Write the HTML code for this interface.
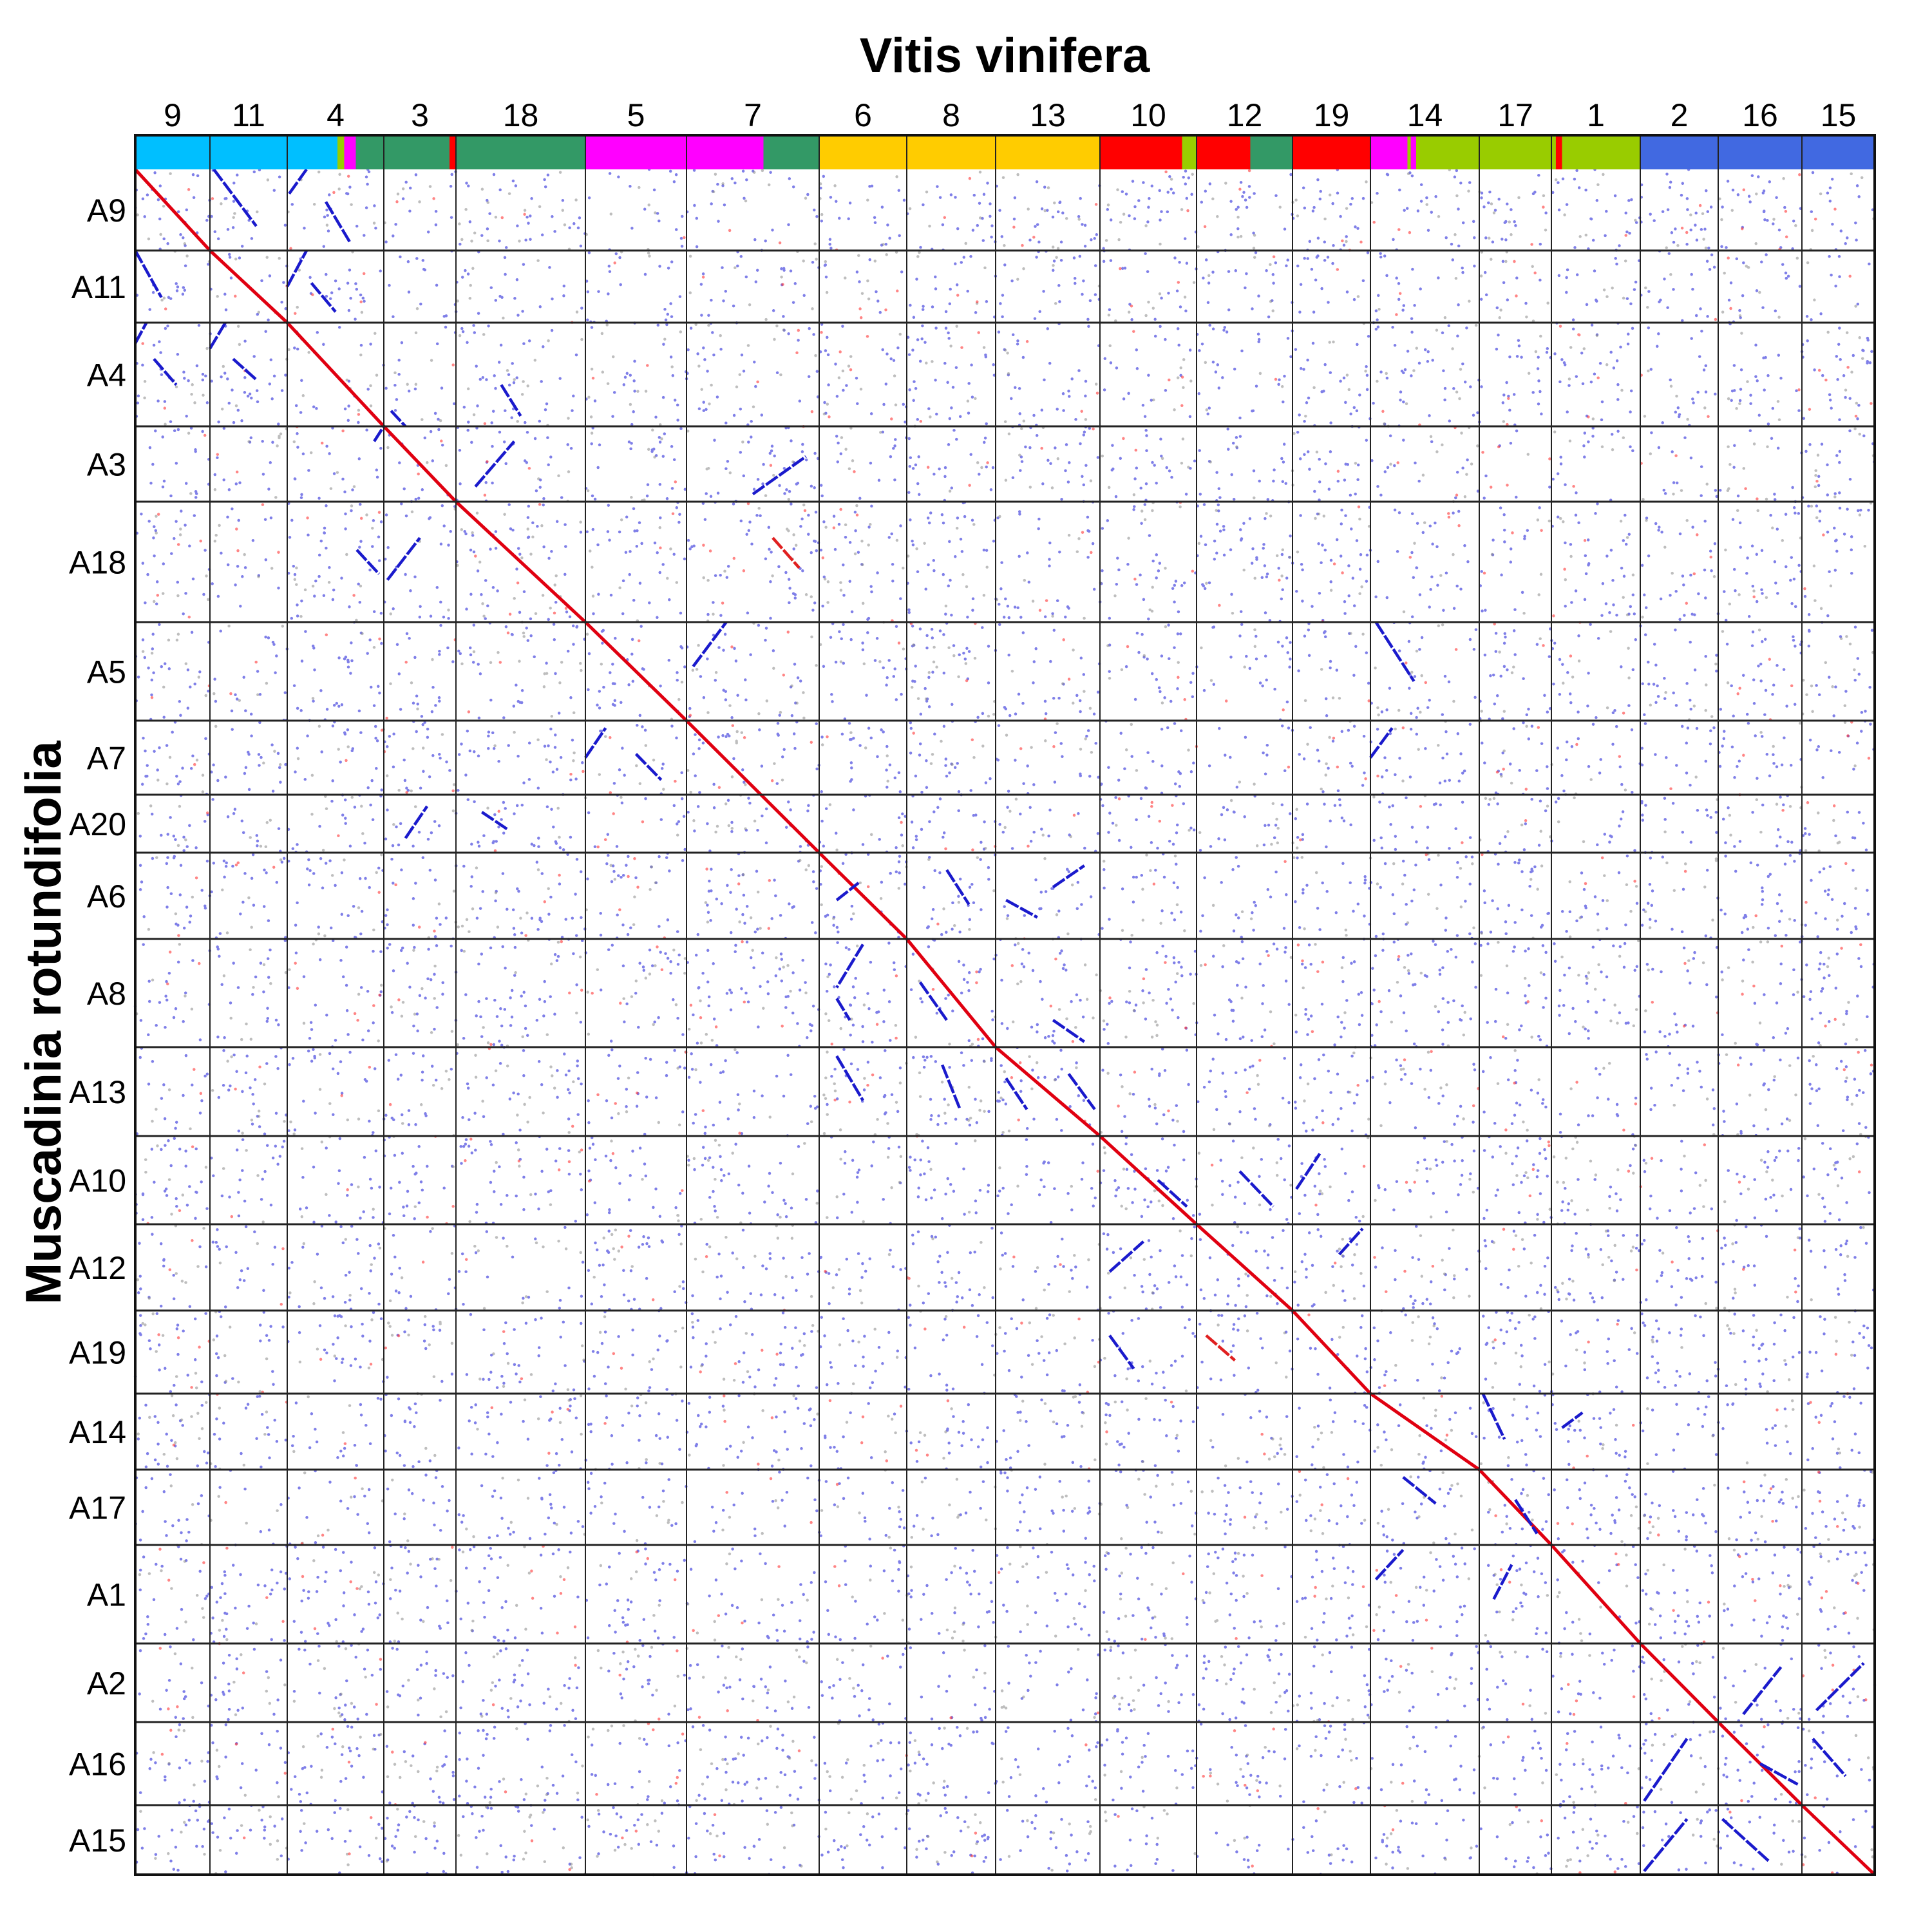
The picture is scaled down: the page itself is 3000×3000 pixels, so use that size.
<!DOCTYPE html>
<html><head><meta charset="utf-8"><style>
html,body{margin:0;padding:0;background:#fff;}
svg{display:block;font-family:"Liberation Sans",Arial,sans-serif;}
</style></head><body>
<svg id="chart" width="3000" height="3000" viewBox="0 0 3000 3000" xmlns="http://www.w3.org/2000/svg">
<rect width="3000" height="3000" fill="#fff"/>
<text x="1560" y="112" font-size="76" font-weight="bold" text-anchor="middle" fill="#000">Vitis vinifera</text>
<text transform="translate(94,1588) rotate(-90)" font-size="78" font-weight="bold" text-anchor="middle" fill="#000">Muscadinia rotundifolia</text>
<g id="noise"></g>
<g id="segs"></g>
<g id="grid"></g>
<g id="cbar"></g>
<g id="labels"></g>
</svg>
<script>
// Vitis chromosome order and lengths (relative units)
const colNames = ["9","11","4","3","18","5","7","6","8","13","10","12","19","14","17","1","2","16","15"];
const colSizes = [116,120,150,112,201,157,206,136,138,162,150,149,121,169,112,138,121,130,113];
// Muscadinia chromosome order and lengths
const rowNames = ["A9","A11","A4","A3","A18","A5","A7","A20","A6","A8","A13","A10","A12","A19","A14","A17","A1","A2","A16","A15"];
const rowSizes = [126,112,161,117,187,153,115,90,134,168,138,137,134,129,118,117,153,122,129,108];
// main diagonal blocks: [col, startRow, endRow]
const diagCols = ["9","11","4","3","18","5","7","6","8","13","10","12","19","14","17","1","2","16","15"];
const diagRowStart = ["A9","A11","A4","A3","A18","A5","A7","A6","A8","A13","A10","A12","A19","A14","A17","A1","A2","A16","A15"];
const diagRowEnd = ["A9","A11","A4","A3","A18","A5","A20","A6","A8","A13","A10","A12","A19","A14","A17","A1","A2","A16","A15"];
// color bar pieces: [column, startFrac, endFrac, color]
const barCols = [
 ["9",0,1,"#00bfff"],["11",0,1,"#00bfff"],["4",0,0.52,"#00bfff"],["4",0.52,0.59,"#99cc00"],["4",0.59,0.71,"#ff00ff"],["4",0.71,1,"#339966"],
 ["3",0,0.91,"#339966"],["3",0.91,1,"#ff0000"],["18",0,1,"#339966"],["5",0,1,"#ff00ff"],["7",0,0.58,"#ff00ff"],["7",0.58,1,"#339966"],
 ["6",0,1,"#ffcc00"],["8",0,1,"#ffcc00"],["13",0,1,"#ffcc00"],["10",0,0.85,"#ff0000"],["10",0.85,1,"#99cc00"],
 ["12",0,0.56,"#ff0000"],["12",0.56,1,"#339966"],["19",0,1,"#ff0000"],["14",0,0.34,"#ff00ff"],["14",0.34,0.37,"#99cc00"],["14",0.37,0.42,"#ff00ff"],["14",0.42,1,"#99cc00"],
 ["17",0,1,"#99cc00"],["1",0,0.05,"#99cc00"],["1",0.05,0.12,"#ff0000"],["1",0.12,1,"#99cc00"],["2",0,1,"#4169e1"],["16",0,1,"#4169e1"],["15",0,1,"#4169e1"]];
// off-diagonal synteny segments
const segCols=["11","4","4","9","4","4","9","9","11","11","3","18","18","7","4","3","7","7","5","5","14","14","3","18","8","13","13","6","6","6","8","13","13","6","8","10","19","10","12","10","12","19","17","1","14","14","17","17","16","15","2","15","2","16","16","4","13"];
const segRows=["A9","A9","A9","A11","A11","A11","A4","A4","A4","A4","A4","A4","A3","A3","A18","A18","A18","A5","A7","A7","A5","A7","A20","A20","A6","A6","A6","A8","A8","A13","A13","A8","A13","A6","A8","A12","A10","A19","A19","A10","A10","A12","A14","A14","A17","A1","A1","A17","A2","A2","A16","A16","A15","A15","A16","A3","A13"];
const segX0=[0.05,0.02,0.4,0.0,0.0,0.25,0.0,0.25,0.0,0.3,0.1,0.35,0.15,0.5,0.72,0.05,0.65,0.05,0.0,0.5,0.05,0.0,0.3,0.2,0.45,0.1,0.55,0.5,0.2,0.2,0.4,0.55,0.1,0.2,0.15,0.1,0.05,0.1,0.1,0.6,0.45,0.6,0.05,0.12,0.3,0.05,0.2,0.5,0.3,0.2,0.05,0.15,0.05,0.05,0.5,0.9,0.7];
const segY0=[0.0,0.3,0.4,0.0,0.5,0.45,0.2,0.35,0.25,0.35,0.85,0.6,0.8,0.9,0.4,0.65,0.3,0.45,0.5,0.45,0.0,0.5,0.75,0.3,0.2,0.55,0.4,0.05,0.55,0.1,0.2,0.75,0.35,0.55,0.4,0.55,0.6,0.3,0.3,0.5,0.4,0.35,0.0,0.45,0.1,0.35,0.55,0.4,0.9,0.85,0.95,0.2,0.95,0.2,0.5,0.2,0.3];
const segX1=[0.6,0.2,0.65,0.35,0.2,0.5,0.15,0.55,0.2,0.6,0.3,0.5,0.45,0.9,0.95,0.5,0.85,0.3,0.2,0.75,0.4,0.2,0.6,0.4,0.7,0.4,0.85,0.2,0.35,0.5,0.6,0.85,0.3,0.45,0.45,0.45,0.35,0.35,0.4,0.9,0.8,0.9,0.35,0.35,0.6,0.3,0.45,0.8,0.75,0.85,0.6,0.6,0.6,0.6,0.95,1.0,0.95];
const segY1=[0.7,0.0,0.9,0.65,0.0,0.85,0.0,0.6,0.0,0.55,1.0,0.9,0.2,0.4,0.6,0.3,0.55,0.0,0.1,0.8,0.6,0.1,0.2,0.6,0.6,0.75,0.15,0.45,0.75,0.6,0.7,0.95,0.7,0.35,0.75,0.2,0.2,0.7,0.6,0.8,0.8,0.05,0.6,0.25,0.45,0.05,0.2,0.85,0.3,0.25,0.2,0.65,0.2,0.8,0.75,0.0,0.7];
const segColor=["b","b","b","b","b","b","b","b","b","b","b","b","b","b","b","b","r","b","b","b","b","b","b","b","b","b","b","b","b","b","b","b","b","b","b","b","b","b","r","b","b","b","b","b","b","b","b","b","b","b","b","b","b","b","b","b","b"];

const NS="http://www.w3.org/2000/svg";
const L=210,R=2911,T=263,B=2911,BT=210;
const colTot=colSizes.reduce((a,b)=>a+b,0), rowTot=rowSizes.reduce((a,b)=>a+b,0);
const colStart={},colW={},rowStart={},rowH={};
(function(){let a=0;colNames.forEach((n,i)=>{colStart[n]=L+a/colTot*(R-L);colW[n]=colSizes[i]/colTot*(R-L);a+=colSizes[i];});
let b=0;rowNames.forEach((n,i)=>{rowStart[n]=T+b/rowTot*(B-T);rowH[n]=rowSizes[i]/rowTot*(B-T);b+=rowSizes[i];});})();
function xs(c,f){return colStart[c]+f*colW[c];}
function ys(r,f){return rowStart[r]+f*rowH[r];}
function mk(tag,attrs,parent){const e=document.createElementNS(NS,tag);for(const k in attrs)e.setAttribute(k,attrs[k]);parent.appendChild(e);return e;}

// background noise texture (deterministic)
const noise=document.getElementById('noise');
let seed=12345;function rnd(){seed=(seed*1103515245+12345)%2147483648;return seed/2147483648;}
let pts="",ptsG="",ptsR="";
for(let i=0;i<15000;i++){const x=L+rnd()*(R-L),y=T+rnd()*(B-T);const t=rnd();
 const s=`M${x.toFixed(1)} ${y.toFixed(1)}h0`;
 if(t<0.72)pts+=s;else if(t<0.94)ptsG+=s;else ptsR+=s;}
const nb=mk('path',{d:pts,stroke:"#2a2ad8","stroke-opacity":"0.6","stroke-width":"4.5","stroke-linecap":"round",fill:"none"},noise);


const ng=mk('path',{d:ptsG,stroke:"#888","stroke-opacity":"0.55","stroke-width":"4.5","stroke-linecap":"round",fill:"none"},noise);


const nr=mk('path',{d:ptsR,stroke:"#ff3333","stroke-opacity":"0.6","stroke-width":"4.5","stroke-linecap":"round",fill:"none"},noise);



// main diagonal orthologous blocks
const segs=document.getElementById('segs');
diagCols.forEach((c,i)=>{
 const l=mk('line',{x1:xs(c,0),y1:ys(diagRowStart[i],0),x2:xs(c,1),y2:ys(diagRowEnd[i],1),stroke:"#e00010","stroke-width":"5"},segs);
 
 
});
segCols.forEach((c,i)=>{
 const r=segRows[i];
 const l=mk('line',{x1:xs(c,segX0[i]),y1:ys(r,segY0[i]),x2:xs(c,segX1[i]),y2:ys(r,segY1[i]),stroke:segColor[i]=="r"?"#e02020":"#1a1acc","stroke-width":"4.5","stroke-dasharray":"22 3"},segs);
 
 
});

// grid
const grid=document.getElementById('grid');
colNames.forEach((c,i)=>{if(i==0)return;const l=mk('line',{x1:colStart[c],y1:BT,x2:colStart[c],y2:B,stroke:"#222","stroke-width":"2"},grid);
 
 });
rowNames.forEach((r,i)=>{if(i==0)return;const l=mk('line',{x1:L,y1:rowStart[r],x2:R,y2:rowStart[r],stroke:"#222","stroke-width":"3"},grid);
 
 });

// color bar
const cbar=document.getElementById('cbar');
barCols.forEach(b=>{const x0=xs(b[0],b[1]),x1=xs(b[0],b[2]);
 const r=mk('rect',{x:x0,y:BT,width:x1-x0+0.5,height:T-BT,fill:b[3]},cbar);
 
 });
colNames.forEach((c,i)=>{if(i==0)return;const l=mk('line',{x1:colStart[c],y1:BT,x2:colStart[c],y2:T,stroke:"#222","stroke-width":"2"},cbar);
 
 });
{const f=mk('rect',{x:L,y:BT,width:R-L,height:B-BT,fill:"none",stroke:"#111","stroke-width":"4"},cbar);
 
 }

// labels
const labels=document.getElementById('labels');
colNames.forEach(c=>{const t=mk('text',{x:colStart[c]+colW[c]/2,y:196,"font-size":"50","text-anchor":"middle",fill:"#000"},labels);
 t.textContent=c;
 
 });
rowNames.forEach(r=>{const t=mk('text',{x:196,y:rowStart[r]+rowH[r]/2+18,"font-size":"50","text-anchor":"end",fill:"#000"},labels);
 t.textContent=r;
 
 });
</script>
</body></html>
